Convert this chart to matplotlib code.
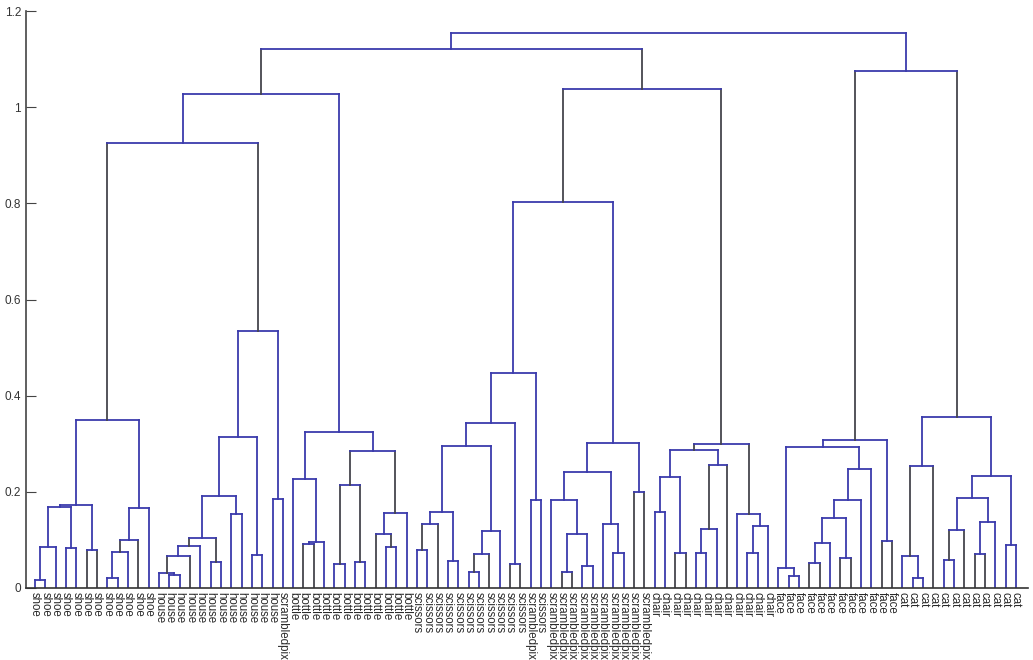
import numpy as np
import matplotlib
matplotlib.use("Agg")
import matplotlib.pyplot as plt

plt.rcParams['font.family'] = ['Liberation Sans', 'DejaVu Sans']

# leaf labels, left to right
labels = (["shoe"] * 12 + ["house"] * 12 + ["scrambledpix"] + ["bottle"] * 12
          + ["scissors"] * 11 + ["scrambledpix", "scissors"] + ["scrambledpix"] * 10
          + ["chair"] * 12 + ["face"] * 12 + ["cat"] * 12)

# subtrees as [left, right, height]; ints are leaf positions
shoe = [[[[[0, 1, 0.016], 2, 0.086], [3, 4, 0.084], 0.168], [5, 6, 0.078], 0.173],
        [[[[7, 8, 0.021], 9, 0.074], 10, 0.100], 11, 0.167], 0.349]
house = [[[[[[[12, [13, 14, 0.027], 0.032], 15, 0.066], 16, 0.088], [17, 18, 0.055], 0.105],
            [19, 20, 0.154], 0.192], [21, 22, 0.068], 0.313], [23, 24, 0.185], 0.534]
bottle = [[25, [[26, 27, 0.091], 28, 0.096], 0.226],
          [[[29, 30, 0.050], [31, 32, 0.055], 0.214], [[33, [34, 35, 0.085], 0.112], 36, 0.157], 0.285],
          0.324]
scissors = [[[[[[37, 38, 0.080], 39, 0.133], [40, 41, 0.057], 0.159],
              [[[42, 43, 0.034], 44, 0.070], 45, 0.119], 0.296], [46, 47, 0.049], 0.343],
            [48, 49, 0.184], 0.447]
scrambled = [[[50, [[51, 52, 0.033], [53, 54, 0.046], 0.112], 0.182], [55, [56, 57, 0.072], 0.133], 0.242],
             [58, 59, 0.200], 0.301]
chair = [[[[60, 61, 0.159], [62, 63, 0.073], 0.230], [[[64, 65, 0.073], 66, 0.122], 67, 0.256], 0.288],
         [68, [[69, 70, 0.072], 71, 0.128], 0.154], 0.299]
face = [[[72, [73, 74, 0.025], 0.042],
         [[[[[75, 76, 0.053], 77, 0.094], [78, 79, 0.062], 0.146], 80, 0.182], 81, 0.247], 0.294],
        [82, 83, 0.098], 0.308]
cat = [[[84, [85, 86, 0.020], 0.067], 87, 0.254],
       [[[[88, 89, 0.058], 90, 0.120], [[91, 92, 0.070], 93, 0.137], 0.188], [94, 95, 0.090], 0.232],
       0.355]

tree = [[[[shoe, house, 0.925], bottle, 1.027], [[scissors, scrambled, 0.803], chair, 1.038], 1.121],
        [face, cat, 1.076], 1.154]

# colour of the vertical legs of each link, in post-order
leg_colors = ("bbbbkbbbkbb" + "bbkbbkbbbbbb" + "k" + "kbbbbkbkbkb" + "b"
              + "bkbbbkbbkbbb" + "kbbbbbbkb" + "b" + "bkbbbkbbbbk" + "k" + "k"
              + "bbkbkbbbbkb" + "bbkbkkbbbbb" + "k" + "b")

blue = "#3b3bac"
dark = "#45454d"

fig = plt.figure(figsize=(10.33, 6.6), dpi=100)
ax = fig.add_axes([26 / 1033, 72 / 660, 1002 / 1033, 577 / 660])

cols = iter(leg_colors)


def draw(node):
    if isinstance(node, int):
        return node, 0.0
    xl, hl = draw(node[0])
    xr, hr = draw(node[1])
    h = node[2]
    c = blue if next(cols) == "b" else dark
    ax.plot([xl, xl], [hl, h], color=c, lw=1.3, solid_capstyle='projecting')
    ax.plot([xr, xr], [hr, h], color=c, lw=1.3, solid_capstyle='projecting')
    ax.plot([xl, xr], [h, h], color=blue, lw=1.3, solid_capstyle='projecting')
    return (xl + xr) / 2, h


draw(tree)

ax.set_xlim(-0.872, -0.872 + 1002 / 10.326)
ax.set_ylim(0, 1.2)
ax.set_xticks(np.arange(len(labels)))
ax.set_xticklabels(labels, rotation=-90, fontsize=8.3, color="#2a2a2a")
ax.tick_params(axis='x', length=0, pad=3)
ax.set_yticks([0, 0.2, 0.4, 0.6, 0.8, 1.0, 1.2])
ax.set_yticklabels(["0", "0.2", "0.4", "0.6", "0.8", "1", "1.2"])
ax.tick_params(axis='y', direction='in', length=7, labelsize=8.5, labelcolor="#333333", color="#444444")
ax.spines['top'].set_visible(False)
ax.spines['right'].set_visible(False)
ax.spines['left'].set_color("#444444")
ax.spines['left'].set_linewidth(1.2)
ax.spines['bottom'].set_color("#333333")
ax.spines['bottom'].set_linewidth(1.2)

fig.savefig("out.png", dpi=100)
